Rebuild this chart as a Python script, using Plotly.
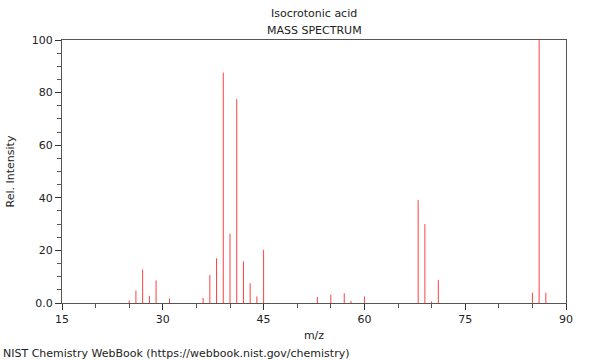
import plotly.graph_objects as go

mz = [25, 26, 27, 28, 29, 31, 36, 37, 38, 39, 40, 41, 42, 43, 44, 45,
      53, 55, 57, 58, 60, 68, 69, 70, 71, 85, 86, 87]
intensity = [1.0, 4.7, 12.7, 2.7, 8.6, 1.7, 1.9, 10.6, 17.0, 87.6, 26.4, 77.5, 15.8, 7.5, 2.5, 20.2,
             2.3, 3.2, 3.7, 0.8, 2.5, 39.2, 30.0, 0.6, 8.8, 3.9, 100.0, 3.9]

x_ticks = [15, 30, 45, 60, 75, 90]
y_ticks = [0, 20, 40, 60, 80, 100]
y_tick_text = ["0.0", "20", "40", "60", "80", "100"]

xs, ys = [], []
for m, v in zip(mz, intensity):
    xs += [m, m, None]
    ys += [0, v, None]

fig = go.Figure()
fig.add_trace(go.Scatter(x=xs, y=ys, mode="lines",
                         line=dict(color="rgba(255,30,30,0.85)", width=1),
                         hoverinfo="skip", showlegend=False))

font = dict(family="DejaVu Sans", size=11, color="#222")
fig.update_layout(
    width=600, height=360,
    margin=dict(l=62, r=34, t=40, b=57),
    paper_bgcolor="white", plot_bgcolor="white",
    font=font,
    showlegend=False,
    annotations=[
        dict(text="Isocrotonic acid", x=0.5, y=1, xref="paper", yref="paper",
             yshift=35, showarrow=False, font=dict(family="DejaVu Sans", size=11, color="#222")),
        dict(text="MASS SPECTRUM", x=0.5, y=1, xref="paper", yref="paper",
             yshift=18, showarrow=False, font=dict(family="DejaVu Sans", size=11, color="#222")),
        dict(text="NIST Chemistry WebBook (https://webbook.nist.gov/chemistry)",
             x=0, y=0, xref="paper", yref="paper", xanchor="left", yanchor="top",
             xshift=-61, yshift=-42, showarrow=False,
             font=dict(family="DejaVu Sans", size=11, color="#222")),
    ],
)
fig.update_xaxes(
    range=[15, 90], tickvals=x_ticks, ticks="outside", ticklen=6, tickwidth=1,
    tickcolor="#333", showgrid=False, zeroline=False, automargin=False,
    showline=True, linecolor="#555", linewidth=1, mirror=True,
    minor=dict(dtick=5, tick0=15, ticks="outside", ticklen=4, tickcolor="#555", showgrid=False),
    title=dict(text="m/z", font=font, standoff=6),
)
fig.update_yaxes(
    range=[0, 100], tickvals=y_ticks, ticktext=y_tick_text, ticks="outside", ticklen=6,
    tickwidth=1, tickcolor="#333", showgrid=False, zeroline=False, automargin=False,
    showline=True, linecolor="#555", linewidth=1, mirror=True,
    minor=dict(dtick=5, tick0=0, ticks="outside", ticklen=4, tickcolor="#555", showgrid=False),
    title=dict(text="Rel. Intensity", font=font, standoff=14),
)

fig.write_html("out.html")
